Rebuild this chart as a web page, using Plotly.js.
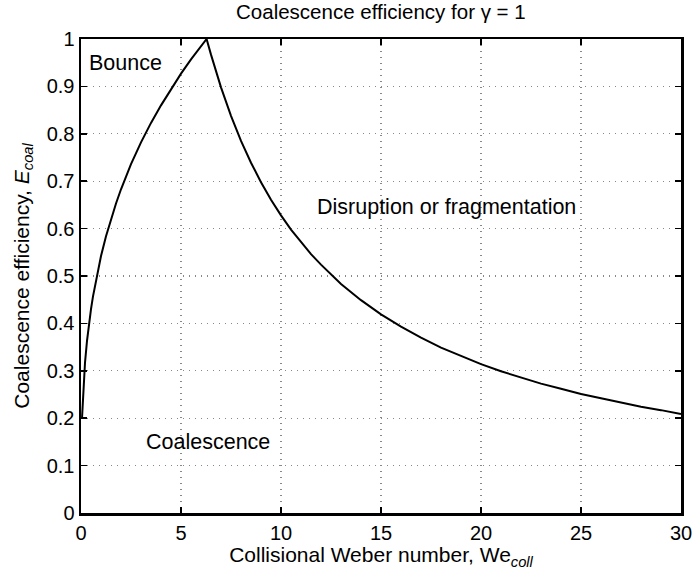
<!DOCTYPE html>
<html><head><meta charset="utf-8">
<script src="https://cdn.plot.ly/plotly-3.0.1.min.js"></script>
<style>body{margin:0;background:#fff}#c{width:695px;height:573px}</style>
</head><body><div id="c"></div>
<script>
// Collisional Weber number (x) and coalescence efficiency (y)
const weColl = [0.05,0.1,0.15,0.2,0.3,0.4,0.5,0.6,0.75,1,1.25,1.5,1.75,2,2.5,3,3.5,4,4.5,5,5.5,6,6.28,
                6.5,7,7.5,8,8.5,9,9.5,10,10.5,11,11.5,12,13,14,15,16,17,18,19,20,21,22,23,24,25,26,27,28,29,30];
const eCoal  = [0.200,0.252,0.288,0.317,0.363,0.399,0.430,0.457,0.492,0.542,0.584,0.620,0.653,0.683,0.736,0.782,0.823,0.860,0.895,0.927,0.957,0.985,1.0,
                0.967,0.898,0.838,0.785,0.739,0.698,0.661,0.628,0.598,0.571,0.546,0.524,0.483,0.449,0.419,0.393,0.370,0.349,0.331,0.314,0.299,0.286,0.273,0.262,0.251,0.242,0.233,0.224,0.217,0.209];
const xTicks = [0,5,10,15,20,25,30];
const yTicks = [0,0.1,0.2,0.3,0.4,0.5,0.6,0.7,0.8,0.9,1];
const yTickText = ['0','0.1','0.2','0.3','0.4','0.5','0.6','0.7','0.8','0.9','1'];
const regionLabels = ['Bounce','Disruption or fragmentation','Coalescence'];
const regionX = [0.32,11.72,3.15];
const regionY = [0.949,0.645,0.150];

const font = 'Liberation Sans, Arial, Helvetica, sans-serif';
const trace = {x: weColl, y: eCoal, type:'scatter', mode:'lines', line:{color:'#000', width:2}, hoverinfo:'skip'};
const ann = regionLabels.map((t,i)=>({x:regionX[i], y:regionY[i], xref:'x', yref:'y', text:t, showarrow:false, xanchor:'left', yanchor:'middle', font:{family:font, size:21.5, color:'#000'}}));
const axisCommon = {showline:true, linecolor:'#000', linewidth:2.5, mirror:'ticks', ticks:'inside', ticklen:6, tickcolor:'#000', tickwidth:1.5,
  showgrid:true, gridcolor:'#888', griddash:'1px,5px', gridwidth:1.2, zeroline:false, tickfont:{family:font,size:20,color:'#000'}};
const layout = {
  width:695, height:573, paper_bgcolor:'#fff', plot_bgcolor:'#fff',
  margin:{l:81, r:14, t:39, b:60},
  showlegend:false,
  font:{family:font, color:'#000'},
  title:{text:'Coalescence efficiency for γ = 1', font:{family:font,size:20.5,color:'#000'}, x:0.548, xanchor:'center', y:0.979, yanchor:'middle'},
  xaxis:Object.assign({}, axisCommon, {range:[0,30], tickvals:xTicks, ticktext:xTicks.map(String), ticklabelstandoff:0,
    title:{text:'Collisional Weber number, We<sub><i>coll</i></sub>', font:{family:font,size:21,color:'#000'}, standoff:2}}),
  yaxis:Object.assign({}, axisCommon, {range:[0,1], tickvals:yTicks, ticktext:yTickText,
    title:{text:'Coalescence efficiency, <i>E</i><sub><i>coal</i></sub>', font:{family:font,size:21,color:'#000'}, standoff:12}}),
  annotations: ann
};
Plotly.newPlot('c',[trace],layout,{displayModeBar:false, staticPlot:true});
</script></body></html>
